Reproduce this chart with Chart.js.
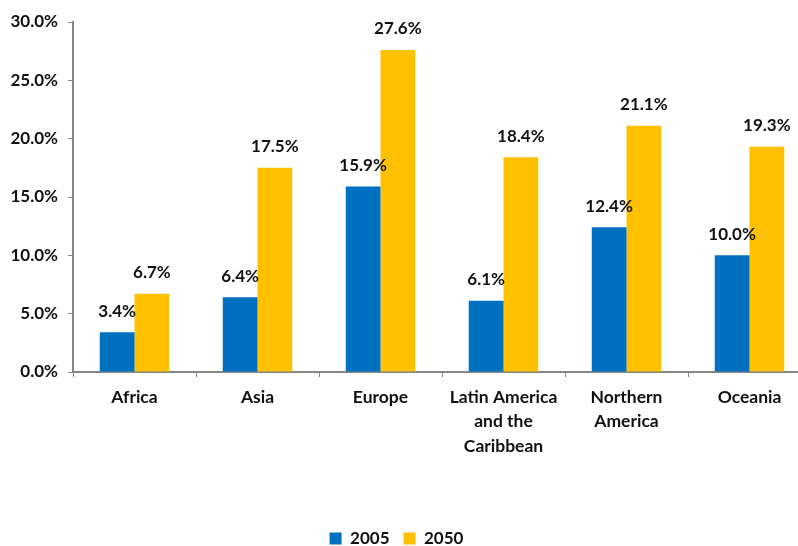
<!DOCTYPE html>
<html>
<head>
<meta charset="utf-8">
<script src="https://cdn.jsdelivr.net/npm/chart.js@4/dist/chart.umd.min.js"></script>
<style>
  html, body { margin: 0; padding: 0; background: #fff; overflow: hidden; }
  #wrap { width: 813px; height: 546px; }
</style>
</head>
<body>
<div id="wrap"><canvas id="ratio-chart"></canvas></div>
<script>
// 地域別の割合（2005年と2050年）
const REGIONS = [
  "Africa",
  "Asia",
  "Europe",
  ["Latin America", "and the", "Caribbean"],
  ["Northern", "America"],
  "Oceania",
];
const SERIES_NAMES = ["2005", "2050"];
const VALUES_2005 = [3.4, 6.4, 15.9, 6.1, 12.4, 10.0];
const VALUES_2050 = [6.7, 17.5, 27.6, 18.4, 21.1, 19.3];
const Y_TICKS = [0, 5, 10, 15, 20, 25, 30];

const BLUE = "#0070C0";
const YELLOW = "#FFC000";
const AXIS_GREY = "#868686";
const FONT = "Lato, 'Open Sans', sans-serif";

// 棒の上に値ラベルを描く
const valueLabels = {
  id: "valueLabels",
  afterDatasetsDraw(chart) {
    const ctx = chart.ctx;
    ctx.save();
    ctx.font = "bold 17px " + FONT;
    ctx.fillStyle = "#111";
    ctx.textAlign = "center";
    ctx.textBaseline = "middle";
    chart.data.datasets.forEach((ds, i) => {
      chart.getDatasetMeta(i).data.forEach((bar, j) => {
        ctx.fillText(ds.data[j].toFixed(1) + "%", bar.x, bar.y - 21);
      });
    });
    ctx.restore();
  },
};

// 凡例を少し下・左へずらす
const legendShift = {
  id: "legendShift",
  afterLayout(chart) {
    const lg = chart.legend;
    lg.top += 11;
    lg.bottom += 11;
    lg.left -= 9;
    lg.right -= 9;
  },
};

new Chart(document.getElementById("ratio-chart"), {
  type: "bar",
  data: {
    labels: REGIONS,
    datasets: [
      { label: SERIES_NAMES[0], data: VALUES_2005, backgroundColor: BLUE },
      { label: SERIES_NAMES[1], data: VALUES_2050, backgroundColor: YELLOW },
    ],
  },
  options: {
    responsive: true,
    maintainAspectRatio: false,
    animation: false,
    layout: { padding: { top: 22, right: 2, left: 0, bottom: 0 } },
    datasets: {
      bar: { categoryPercentage: 0.565, barPercentage: 1.0 },
    },
    plugins: {
      legend: {
        position: "bottom",
        labels: {
          color: "#111",
          font: { family: FONT, size: 17, weight: "bold" },
          boxWidth: 12,
          boxHeight: 12,
          padding: 14,
        },
      },
      tooltip: { enabled: false },
    },
    scales: {
      x: {
        grid: {
          display: true,
          drawOnChartArea: false,
          offset: true,
          color: AXIS_GREY,
          tickLength: 5,
          lineWidth: 1,
        },
        border: { color: AXIS_GREY, width: 2 },
        ticks: {
          color: "#111",
          font: { family: FONT, size: 17.5, weight: "bold", lineHeight: 1.4 },
          padding: 8,
          maxRotation: 0,
        },
        afterFit(scale) { scale.height = 133; },
      },
      y: {
        min: 0,
        max: 30,
        afterBuildTicks(scale) {
          scale.ticks = Y_TICKS.map((v) => ({ value: v }));
        },
        grid: {
          drawOnChartArea: false,
          color: AXIS_GREY,
          tickLength: 5,
        },
        border: { color: AXIS_GREY, width: 2 },
        ticks: {
          color: "#111",
          font: { family: FONT, size: 17, weight: "bold" },
          padding: 10,
          callback: (v) => v.toFixed(1) + "%",
        },
        afterFit(scale) { scale.width = 73; },
      },
    },
  },
  plugins: [valueLabels, legendShift],
});
</script>
</body>
</html>
